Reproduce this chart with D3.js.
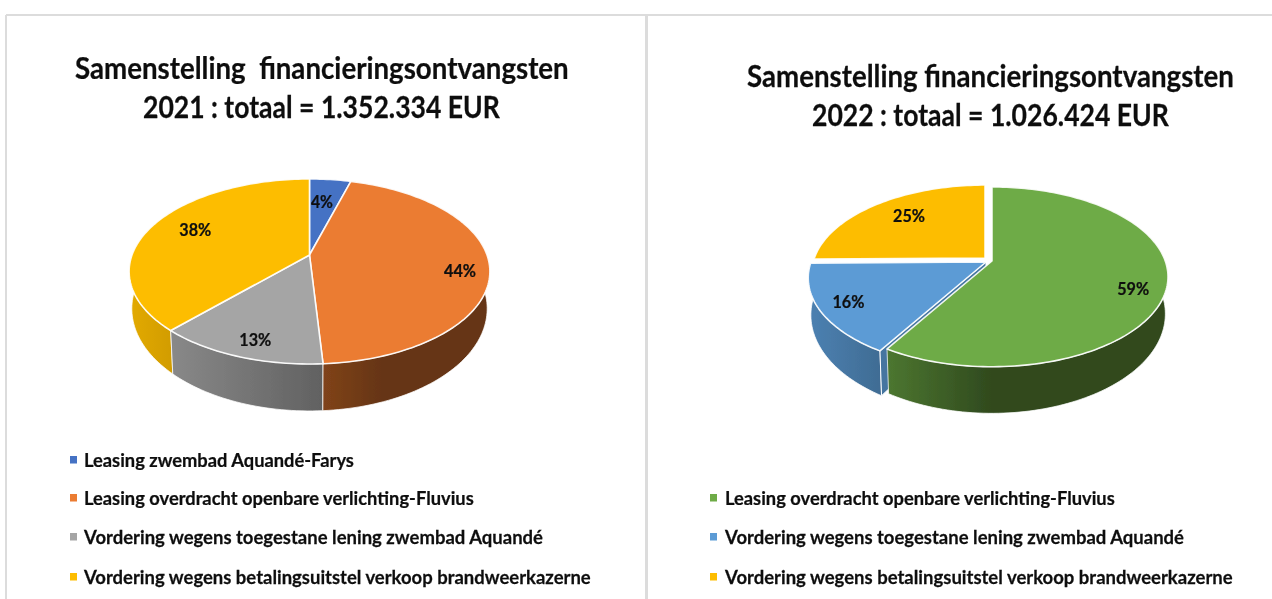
<!DOCTYPE html>
<html><head><meta charset="utf-8">
<script src="https://cdn.jsdelivr.net/npm/d3@7/dist/d3.min.js"></script>
<style>html,body{margin:0;padding:0;background:#fff;overflow:hidden}svg{display:block}text{font-family:Lato,"Open Sans",sans-serif;font-weight:700;fill:#111;stroke:#111;stroke-width:.25px}</style>
</head><body><svg width="1272" height="599"></svg>
<script>
const titles2021 = ["Samenstelling  financieringsontvangsten", "2021 : totaal = 1.352.334 EUR"];
const titles2022 = ["Samenstelling financieringsontvangsten", "2022 : totaal = 1.026.424 EUR"];
const categories2021 = ["Leasing zwembad Aquandé-Farys","Leasing overdracht openbare verlichting-Fluvius","Vordering wegens toegestane lening zwembad Aquandé","Vordering wegens betalingsuitstel verkoop brandweerkazerne"];
const values2021 = [4.4, 44.6, 12.9, 38.1];
const labels2021 = ["4%","44%","13%","38%"];
const colors2021 = ["#4472C4","#EB7B30","#A5A5A5","#FDBD00"];
const categories2022 = ["Leasing overdracht openbare verlichting-Fluvius","Vordering wegens toegestane lening zwembad Aquandé","Vordering wegens betalingsuitstel verkoop brandweerkazerne"];
const values2022 = [58.6, 16.2, 25.2];
const labels2022 = ["59%","16%","25%"];
const colors2022 = ["#6EAB46","#5B9BD5","#FDBD00"];

const svg = d3.select("svg");
const defs = svg.append("defs");
defs.append("filter").attr("id","soft").append("feGaussianBlur").attr("stdDeviation",0.5);
const g0 = svg.append("g").attr("filter","url(#soft)");

// panel frame
[[6,15,1272,15],[6,15,6,599],[646.5,15,646.5,599]].forEach((l,i)=>{
  g0.append("line").attr("x1",l[0]).attr("y1",l[1]).attr("x2",l[2]).attr("y2",l[3])
    .attr("stroke","#dcdcdc").attr("stroke-width",i==2?3:2);
});

let gid = 0;
// draws text at x,y and squeezes it horizontally to the wanted width
function fitText(g,str,x,y,size,width,anchor){
  const t = g.append("text").attr("font-size",size)
    .attr("text-anchor",anchor).style("white-space","pre").text(str);
  const natural = t.node().getComputedTextLength();
  t.attr("transform","translate("+x+","+y+") scale("+(width/natural)+",1)");
  return t;
}
function wallGradient(c, x0, x1, stops){
  const id = "w"+(gid++);
  const gr = defs.append("linearGradient").attr("id",id).attr("gradientUnits","userSpaceOnUse")
    .attr("x1",x0).attr("x2",x1).attr("y1",0).attr("y2",0);
  stops.forEach(s=>gr.append("stop").attr("offset",s[0]).attr("stop-color",d3.rgb(c).darker(s[1])));
  return "url(#"+id+")";
}
const line = d3.line();

function drawPie(o){
  const g = g0.append("g");
  const arcs = d3.pie().sort(null).value(d=>d)(o.values);
  const proj = (a,r,sl)=>{
    const s=sl.s||1, u=r*Math.sin(a), v=-r*Math.cos(a), d=1-o.k*v;
    return [o.cx+sl.dx+s*o.A*u/d, o.apex+sl.dy+s*o.B*v/d];
  };
  const down = (p,sl)=>{
    const cx=o.cx+sl.dx, ay=o.apex+sl.dy;
    return [cx+(p[0]-cx)*o.sx, ay+(p[1]-ay)*o.sy+o.drop];
  };
  const rim = (a0,a1,sl)=>{
    const n=Math.max(4,Math.ceil((a1-a0)*40));
    return d3.range(n+1).map(i=>proj(a0+(a1-a0)*i/n,1,sl));
  };
  const wall = i=>{
    const a=arcs[i], sl=o.shift[i];
    const top=rim(a.startAngle,a.endAngle,sl);
    g.append("path").attr("d",line(top.concat(top.map(p=>down(p,sl)).reverse()))+"Z")
      .attr("fill",wallGradient(o.colors[i],o.wallX[i][0],o.wallX[i][1],o.wallStops[i]))
      .attr("stroke","#fff").attr("stroke-width",1).attr("stroke-opacity",.75);
    if(o.cut && o.cut[i]!==undefined){
      const ang=o.cut[i]==="start"?a.startAngle:a.endAngle;
      const p0=proj(ang,0,sl),p1=proj(ang,1,sl);
      g.append("path").attr("d",line([p0,p1,down(p1,sl),down(p0,sl)])+"Z")
        .attr("fill",d3.rgb(o.colors[i]).darker(.8)).attr("stroke","#fff").attr("stroke-width",1);
    }
  };
  o.wallOrder.forEach(wall);
  // top faces
  arcs.forEach((a,i)=>{
    const sl=o.shift[i];
    const pts=[proj(0,0,sl)].concat(rim(a.startAngle,a.endAngle,sl));
    g.append("path").attr("d",line(pts)+"Z").attr("fill",o.colors[i])
      .attr("stroke","#fff").attr("stroke-width",1.6).attr("stroke-linejoin","round").attr("stroke-opacity",.9);
  });
  // data labels
  arcs.forEach((a,i)=>{
    const sl=o.shift[i];
    const m=(a.startAngle+a.endAngle)/2+o.labelTurn[i];
    const p=proj(m,o.labelR[i],sl);
    fitText(g,o.labels[i],p[0],p[1]+6,17,o.labels[i].length==2?22:32,"middle");
  });
}

function legend(cats,colors,xSq,xTxt,rowsY,widths){
  cats.forEach((c,i)=>{
    g0.append("rect").attr("x",xSq).attr("y",rowsY[i]-4).attr("width",7).attr("height",7.5).attr("fill",colors[i]);
    fitText(g0,c,xTxt,rowsY[i]+6.5,19,widths[i],"start");
  });
}

// titles
fitText(g0,titles2021[0],75,79,30.5,494,"start");
fitText(g0,titles2021[1],143,118,30.5,357,"start");
fitText(g0,titles2022[0],747,87,30.5,487,"start");
fitText(g0,titles2022[1],812,126,30.5,357,"start");

drawPie({cx:309.5,apex:255,A:177.5,B:89.6,k:.178,sx:.985,sy:1.106,drop:35.4,
  values:values2021,labels:labels2021,colors:colors2021,
  shift:[{dx:0,dy:0},{dx:0,dy:0},{dx:0,dy:0},{dx:0,dy:0}],
  wallOrder:[0,3,2,1],
  wallX:[[300,350],[323,420],[173,323],[129,176]],
  wallStops:[[[0,.2],[1,1.1]],[[0,1.7],[.6,2.35],[1,2.35]],[[0,.55],[1,1.5]],[[0,.3],[1,.55]]],
  labelR:[.66,.84,.85,.74],labelTurn:[-.02,.1,-.03,.04]
});
drawPie({cx:988.5,apex:258,A:175,B:88,k:.176,sx:.985,sy:1.106,drop:35.4,
  values:values2022,labels:labels2022,colors:colors2022,
  shift:[{dx:3.5,dy:3,s:.99},{dx:-2.5,dy:4},{dx:-3.5,dy:0,s:.975}],
  wallOrder:[1,0],
  cut:{1:"start"},
  wallX:[[888,1060],[815,885],[810,815]],
  wallStops:[[[0,1.05],[.6,2.35],[1,2.35]],[[0,.55],[1,1.05]],[[0,.3],[1,.5]]],
  labelR:[.83,.84,.72],labelTurn:[.11,0,.05]
});

legend(categories2021,colors2021,70,84,[460,498,537,577],[270,390,459,507]);
legend(categories2022,colors2022,710,725,[498,537,577],[390,459,508]);
</script></body></html>
